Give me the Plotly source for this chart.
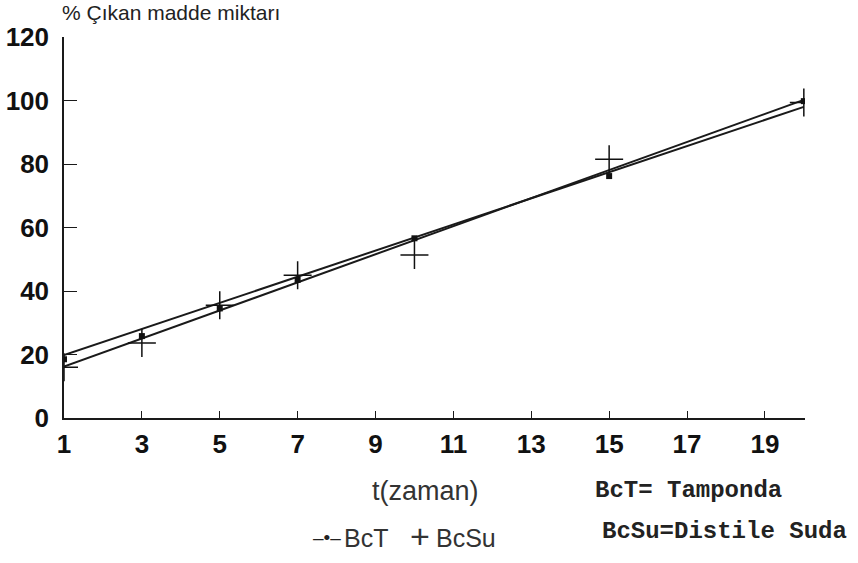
import plotly.graph_objects as go

# ---- data ----
t_values = [1, 3, 5, 7, 10, 15, 20]
bct_values = [18.5, 25.8, 34.5, 43.5, 56.6, 76.2, 99.8]
bcsu_values = [16.0, 23.6, 35.5, 45.0, 51.3, 81.5, 99.4]

fit_t = [1, 20]
bct_fit = [19.8, 98.0]
bcsu_fit = [16.2, 100.2]

x_ticks = [1, 3, 5, 7, 9, 11, 13, 15, 17, 19]
y_ticks = [0, 20, 40, 60, 80, 100, 120]

y_title = "% Çıkan madde miktarı"
x_title = "t(zaman)"
note1 = "BcT= Tamponda"
note2 = "BcSu=Distile Suda"
legend_names = ["BcT", "BcSu"]

W, H = 858, 563
L, R, T, B = 64, 53, 37, 145

def px(x):
    return (x - L) / (W - L - R)

def py(y):
    return (H - B - y) / (H - T - B)

fig = go.Figure()

fig.add_trace(go.Scatter(x=fit_t, y=bct_fit, mode="lines",
                         line=dict(color="#1a1a1a", width=2), showlegend=False))
fig.add_trace(go.Scatter(x=fit_t, y=bcsu_fit, mode="lines",
                         line=dict(color="#1a1a1a", width=2), showlegend=False))
fig.add_trace(go.Scatter(x=t_values, y=bct_values, mode="markers", name=legend_names[0],
                         marker=dict(symbol="square", size=6, color="#111"),
                         showlegend=False))
fig.add_trace(go.Scatter(x=t_values, y=bcsu_values, mode="markers", name=legend_names[1],
                         marker=dict(symbol="cross-thin", size=20,
                                     line=dict(color="#111", width=1.5)),
                         showlegend=False))

tickfont = dict(family="Liberation Sans, Arial, sans-serif", size=26, color="#111",
                weight="bold")

fig.update_xaxes(range=[1, 20.03], tickvals=x_ticks, ticktext=[str(v) for v in x_ticks],
                 showline=True, linecolor="#1a1a1a", linewidth=1.5,
                 ticks="inside", ticklen=7, tickwidth=1.2, tickcolor="#1a1a1a",
                 showgrid=False, zeroline=False, tickfont=tickfont,
                 automargin=False, ticklabelstandoff=2)
fig.update_yaxes(range=[0, 120], tickvals=y_ticks, ticktext=[str(v) for v in y_ticks],
                 showline=True, linecolor="#1a1a1a", linewidth=1.5,
                 ticks="inside", ticklen=13, tickwidth=1.2, tickcolor="#1a1a1a",
                 showgrid=False, zeroline=False, tickfont=tickfont,
                 automargin=False, ticklabelstandoff=8)

sans = "Liberation Sans, Arial, sans-serif"
mono = "Liberation Mono, Courier New, monospace"
anns = [
    dict(x=px(60), y=py(13), text=y_title, xanchor="left", yanchor="middle",
         font=dict(family=sans, size=21, color="#222")),
    dict(x=px(425), y=py(491), text=x_title, xanchor="center", yanchor="middle",
         font=dict(family=sans, size=27, color="#333")),
    dict(x=px(593), y=py(490), text=note1, xanchor="left", yanchor="middle",
         font=dict(family=mono, size=24, color="#222", weight="bold")),
    dict(x=px(600), y=py(531), text=note2, xanchor="left", yanchor="middle",
         font=dict(family=mono, size=24, color="#222", weight="bold")),
    dict(x=px(327), y=py(537), text="–•–", xanchor="center", yanchor="middle",
         font=dict(family=sans, size=19, color="#222")),
    dict(x=px(342), y=py(538), text=legend_names[0], xanchor="left", yanchor="middle",
         font=dict(family=sans, size=25, color="#333")),
    dict(x=px(420), y=py(536), text="+", xanchor="center", yanchor="middle",
         font=dict(family=sans, size=34, color="#333", weight=300)),
    dict(x=px(434), y=py(538), text=legend_names[1], xanchor="left", yanchor="middle",
         font=dict(family=sans, size=25, color="#333")),
]
for a in anns:
    a.update(xref="paper", yref="paper", showarrow=False)
fig.update_layout(annotations=anns)

fig.update_layout(width=W, height=H, margin=dict(l=L, r=R, t=T, b=B),
                  paper_bgcolor="white", plot_bgcolor="white")

fig.write_html("out.html", config={"displayModeBar": False},
               post_script="document.body.style.margin='0';")
